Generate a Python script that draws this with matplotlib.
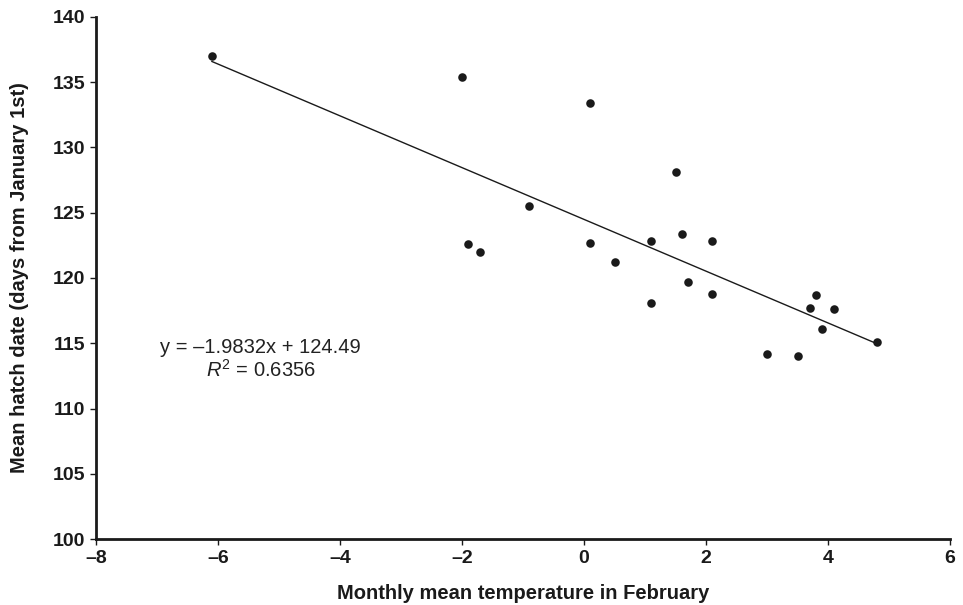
import numpy as np
import matplotlib.pyplot as plt
from matplotlib import font_manager

plt.rcParams['mathtext.fontset'] = 'custom'
plt.rcParams['mathtext.it'] = 'Liberation Sans:italic'
plt.rcParams['mathtext.rm'] = 'Liberation Sans'

# February mean temperature vs mean hatch date
temp = [-6.1, -2.0, -1.9, -1.7, -0.9, 0.1, 0.1, 0.5, 1.1, 1.1, 1.5, 1.6, 1.7,
        2.1, 2.1, 3.0, 3.5, 3.7, 3.8, 3.9, 4.1, 4.8]
hatch = [137.0, 135.4, 122.6, 122.0, 125.5, 133.4, 122.7, 121.2, 122.8, 118.1,
         128.1, 123.4, 119.7, 122.8, 118.8, 114.2, 114.0, 117.7, 118.7, 116.1,
         117.6, 115.1]

slope = -1.9832
intercept = 124.49
r2 = 0.6356

x_ticks = [-8, -6, -4, -2, 0, 2, 4, 6]
y_ticks = [100, 105, 110, 115, 120, 125, 130, 135, 140]

names = {f.name for f in font_manager.fontManager.ttflist}
bold_font = 'Liberation Sans Narrow' if 'Liberation Sans Narrow' in names else 'Liberation Sans'

fig = plt.figure(figsize=(9.63, 6.05), dpi=100)
ax = fig.add_axes([0.0997, 0.109, 0.8868, 0.863])

ax.scatter(temp, hatch, s=38, color='#1a1a1a', zorder=3, linewidths=0)

xl = np.array([min(temp), max(temp)])
ax.plot(xl, slope * xl + intercept, color='#1a1a1a', lw=1.0)

ax.set_xlim(-8, 6)
ax.set_ylim(100, 140)
ax.set_xticks(x_ticks)
ax.set_yticks(y_ticks)
ax.set_xticklabels(['\u2013' + str(-t) if t < 0 else str(t) for t in x_ticks])
ax.set_yticklabels([str(t) for t in y_ticks])

for lab in ax.get_xticklabels() + ax.get_yticklabels():
    lab.set_fontfamily(bold_font)
    lab.set_fontweight('bold')
    lab.set_fontsize(14)

ax.spines['top'].set_visible(False)
ax.spines['right'].set_visible(False)
for s in ['left', 'bottom']:
    ax.spines[s].set_linewidth(2)
    ax.spines[s].set_color('#1a1a1a')
ax.tick_params(direction='out', length=4, width=1, colors='#1a1a1a', pad=4)

ax.set_xlabel('Monthly mean temperature in February', fontfamily=bold_font,
              fontweight='bold', fontsize=14.5, labelpad=12, color='#1a1a1a')
ax.set_ylabel('Mean hatch date (days from January 1st)', fontfamily=bold_font,
              fontweight='bold', fontsize=14.5, labelpad=17, color='#1a1a1a')

ax.text(-5.3, 114.7, 'y = \u20131.9832x + 124.49', ha='center', va='center',
        fontfamily='Liberation Sans', fontsize=14.5, color='#222222')
ax.text(-5.3, 113.0, '$R^2$ = 0.6356', ha='center', va='center',
        fontfamily='Liberation Sans', fontsize=14.5, color='#222222')

fig.savefig('out.png', dpi=100)
